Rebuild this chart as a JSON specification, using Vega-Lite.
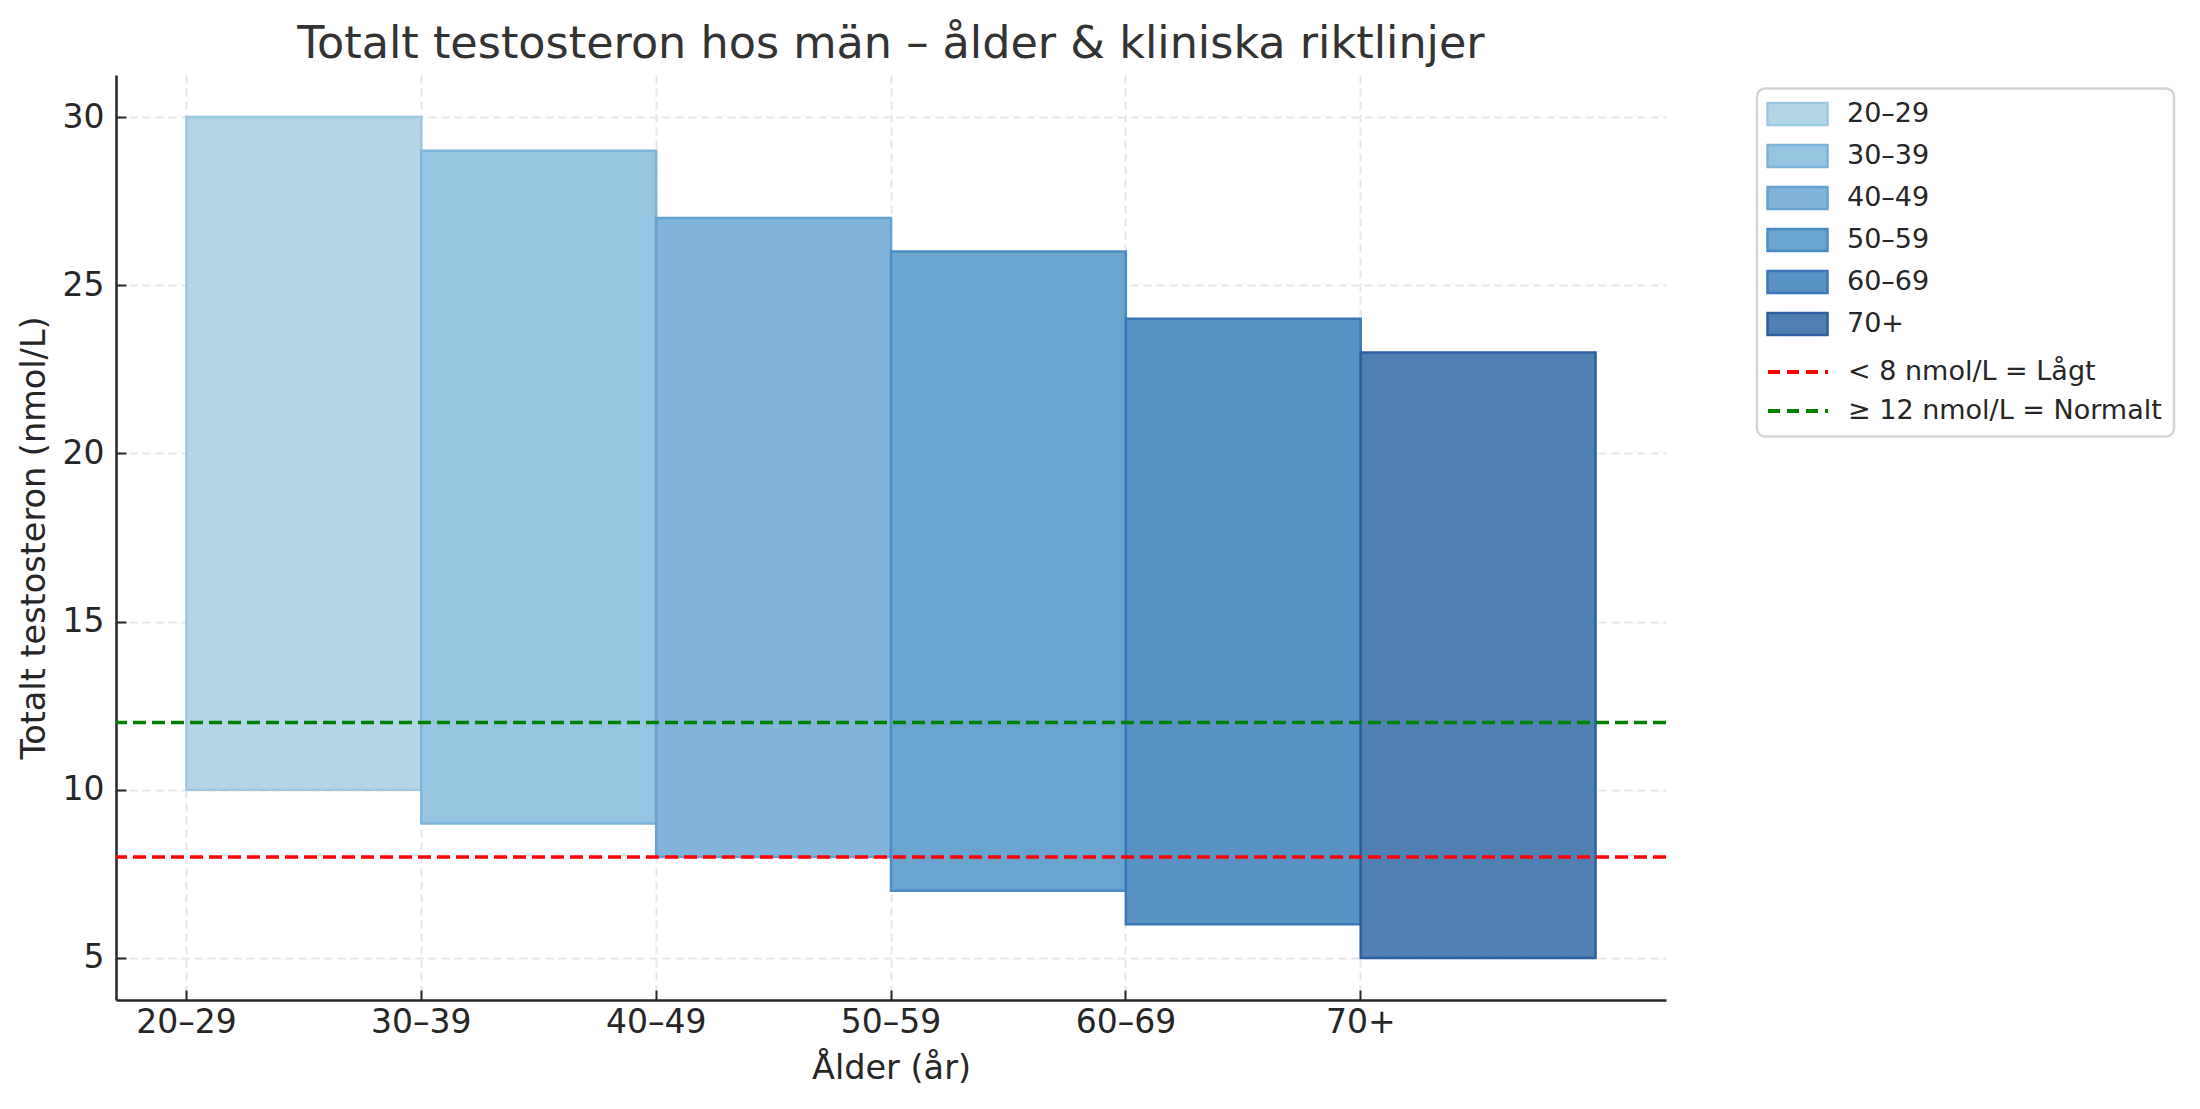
{
  "$schema": "https://vega.github.io/schema/vega-lite/v6.json",
  "width": 1550,
  "height": 925,
  "autosize": {"type": "none"},
  "padding": {"left": 116, "top": 75, "right": 534, "bottom": 109},
  "background": "white",
  "config": {
    "view": {"stroke": null},
    "font": "DejaVu Sans",
    "axis": {"labelFont": "DejaVu Sans", "titleFont": "DejaVu Sans", "labelColor": "#262626", "titleColor": "#262626", "titleFontWeight": "normal"},
    "legend": {"labelFont": "DejaVu Sans", "titleFont": "DejaVu Sans", "strokeWidth": 2.5}
  },
  "title": {
    "text": "Totalt testosteron hos män – ålder & kliniska riktlinjer",
    "fontSize": 44.5,
    "font": "DejaVu Sans",
    "fontWeight": "normal",
    "color": "#333333",
    "anchor": "middle",
    "frame": "group",
    "offset": 8
  },
  "datasets": {
    "bars": [
      {"group": "20–29", "low": 10, "high": 30},
      {"group": "30–39", "low": 9, "high": 29},
      {"group": "40–49", "low": 8, "high": 27},
      {"group": "50–59", "low": 7, "high": 26},
      {"group": "60–69", "low": 6, "high": 24},
      {"group": "70+", "low": 5, "high": 23}
    ],
    "lines": [
      {"label": "< 8 nmol/L = Lågt", "value": 8},
      {"label": "≥ 12 nmol/L = Normalt", "value": 12}
    ]
  },
  "layer": [
    {
      "data": {"name": "bars"},
      "mark": {"type": "bar", "strokeWidth": 2.5, "opacity": 1},
      "encoding": {
        "x": {
          "field": "group",
          "type": "nominal",
          "sort": null,
          "scale": {"paddingInner": 0, "paddingOuter": 0.3, "align": 0.5},
          "axis": {
            "title": "Ålder (år)",
            "titleFontSize": 33.5,
            "titlePadding": 13,
            "labelFontSize": 33,
            "labelAngle": 0,
            "labelPadding": 16,
            "labelOffset": -117.4,
            "bandPosition": 0,
            "tickSize": -10,
            "tickWidth": 2,
            "tickColor": "#262626",
            "domainColor": "#262626",
            "domainWidth": 2.5,
            "grid": true,
            "gridColor": "#e6e6e6",
            "gridDash": [8, 5],
            "gridWidth": 2,
            "encode": {"ticks": {"y": {"value": 0}, "y2": {"value": -10}}}
          }
        },
        "y": {
          "field": "low",
          "type": "quantitative",
          "scale": {"domain": [3.75, 31.25], "nice": false, "zero": false},
          "axis": {
            "title": "Totalt testosteron (nmol/L)",
            "titleFontSize": 33.5,
            "titlePadding": 11,
            "labelFontSize": 33,
            "labelPadding": 22,
            "values": [5, 10, 15, 20, 25, 30],
            "tickSize": -10,
            "tickWidth": 2,
            "tickColor": "#262626",
            "domainColor": "#262626",
            "domainWidth": 2.5,
            "grid": true,
            "gridColor": "#e6e6e6",
            "gridDash": [8, 5],
            "gridWidth": 2,
            "encode": {"ticks": {"x": {"value": 0}, "x2": {"value": 10}}}
          }
        },
        "y2": {"field": "high"},
        "fill": {
          "field": "group",
          "type": "nominal",
          "scale": {
            "domain": ["20–29", "30–39", "40–49", "50–59", "60–69", "70+"],
            "range": ["#b4d5e8", "#97c5e2", "#80b5d9", "#6ba4cf", "#5b92c4", "#5080b1"]
          },
          "legend": {
            "title": null,
            "orient": "none",
            "legendX": 1641,
            "legendY": 10.5,
            "labelFontSize": 27,
            "labelColor": "#262626",
            "labelLimit": 600,
            "labelOffset": 33,
            "symbolOffset": 12,
            "symbolSize": 900,
            "symbolType": "M-2,-0.73H2V0.73H-2Z",
            "symbolStrokeWidth": 2.5,
            "symbolOpacity": 1,
            "rowPadding": 9,
            "padding": 12,
            "strokeColor": null,
            "fillColor": null
          }
        },
        "stroke": {
          "field": "group",
          "type": "nominal",
          "scale": {
            "domain": ["20–29", "30–39", "40–49", "50–59", "60–69", "70+"],
            "range": ["#9cc7e0", "#7db5da", "#64a2cf", "#4a8cc4", "#3a78b8", "#2b5f9f"]
          },
          "legend": {
            "title": null,
            "orient": "none",
            "legendX": 1641,
            "legendY": 10.5,
            "labelFontSize": 27,
            "labelColor": "#262626",
            "labelLimit": 600,
            "labelOffset": 33,
            "symbolOffset": 12,
            "symbolSize": 900,
            "symbolType": "M-2,-0.73H2V0.73H-2Z",
            "symbolStrokeWidth": 2.5,
            "symbolOpacity": 1,
            "rowPadding": 9,
            "padding": 12,
            "strokeColor": null,
            "fillColor": null
          }
        }
      }
    },
    {
      "data": {"name": "lines"},
      "mark": {"type": "rule", "strokeWidth": 3.5, "strokeDash": [13, 6]},
      "encoding": {
        "y": {"field": "value", "type": "quantitative"},
        "color": {
          "field": "label",
          "type": "nominal",
          "scale": {"domain": ["< 8 nmol/L = Lågt", "≥ 12 nmol/L = Normalt"], "range": ["#ff0000", "#008000"]},
          "legend": {
            "title": ["\u00a0", "\u00a0", "\u00a0", "\u00a0", "\u00a0", "\u00a0"],
            "titleFontSize": 27,
            "titleLineHeight": 42,
            "titlePadding": 17.5,
            "orient": "none",
            "legendX": 1641,
            "legendY": 13.5,
            "labelFontSize": 27,
            "labelColor": "#262626",
            "labelLimit": 600,
            "labelOffset": 33,
            "symbolOffset": 12,
            "symbolSize": 900,
            "symbolType": "M-2,0H2",
            "symbolDash": [12, 7],
            "symbolStrokeWidth": 4,
            "symbolFillColor": "transparent",
            "symbolOpacity": 1,
            "rowPadding": 9,
            "padding": 12,
            "strokeColor": "#d4d4d4",
            "cornerRadius": 8,
            "fillColor": null
          }
        }
      }
    }
  ]
}
